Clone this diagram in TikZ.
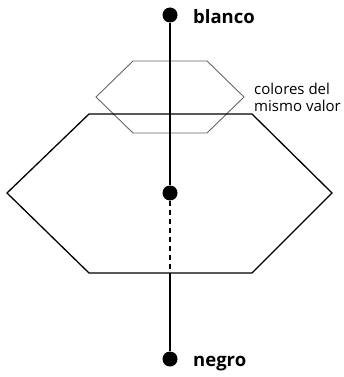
\documentclass[tikz,border=0pt]{standalone}
\usepackage{fontspec}
\setmainfont{Open Sans}
\begin{document}
\begin{tikzpicture}[x=1pt,y=-1pt,
  axis/.style={line width=1.3pt,black},
  dot/.style={circle,fill=black,inner sep=0pt,minimum size=15pt},
  bighex/.style={line width=1.3pt,black,line join=miter},
  smallhex/.style={line width=0.9pt,black!60},
  lbl/.style={anchor=base west,font=\bfseries\fontsize{18.5}{20}\selectfont,inner sep=0pt},
  note/.style={anchor=west,align=left,font=\fontsize{15}{17}\selectfont,inner sep=0pt}]
\useasboundingbox (0,0) rectangle (344,377);
% hexagons
\draw[smallhex] (133,61) -- (207,61) -- (244,97) -- (207,133) -- (133,133) -- (96,97) -- cycle;
\draw[bighex] (89,114) -- (252,114) -- (332,193) -- (252,273) -- (89,273) -- (7,193) -- cycle;
% dots
\node[dot] (top) at (170,15) {};
\node[dot] (mid) at (170,193) {};
\node[dot] (bot) at (170,359) {};
\coordinate (edge) at (170,273);
% axis
\draw[axis] (top) -- (mid);
\draw[axis,dash pattern=on 5pt off 4pt] (mid) -- (edge);
\draw[axis] (edge) -- (bot);
% labels
\node[lbl] (blanco) at (193,24) {blanco};
\node[lbl] (negro) at (193,366) {negro};
\node[note] (val) at (254,97) {colores del\\mismo valor};
\end{tikzpicture}
\end{document}
